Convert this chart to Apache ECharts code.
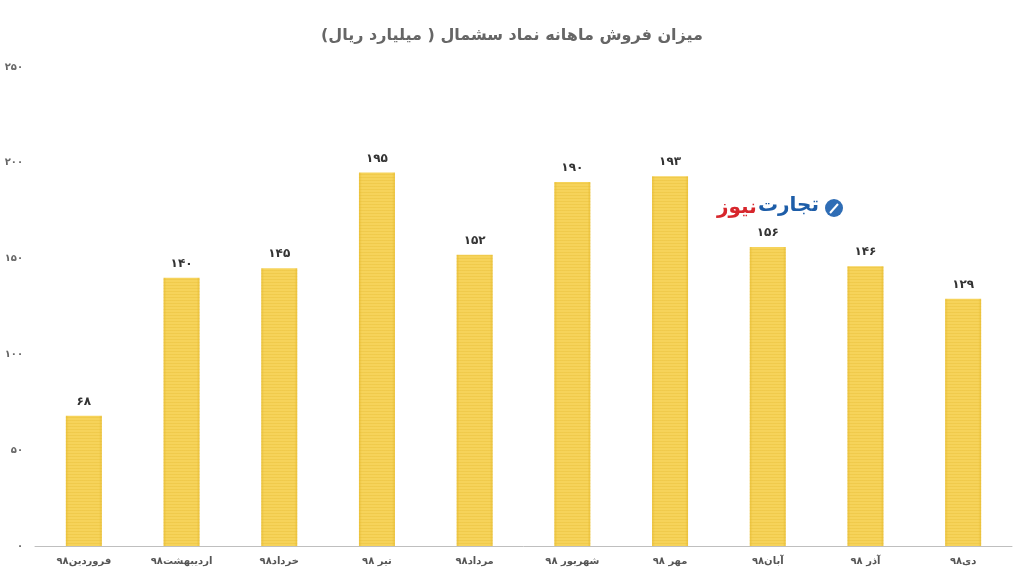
<!DOCTYPE html>
<html><head><meta charset="utf-8">
<script src="https://cdn.jsdelivr.net/npm/echarts@6/dist/echarts.min.js"></script>
<style>html,body{margin:0;padding:0;background:#fff}#c{width:1024px;height:576px}</style>
</head><body><div id="c"></div>
<script>
const titleText = 'میزان فروش ماهانه نماد سشمال ( میلیارد ریال)';
const categories = ['فروردین۹۸','اردیبهشت۹۸','خرداد۹۸','تیر ۹۸','مرداد۹۸','شهریور ۹۸','مهر ۹۸','آبان۹۸','آذر ۹۸','دی۹۸'];
const salesValues = [68, 140, 145, 195, 152, 190, 193, 156, 146, 129];
const yTicks = [0, 50, 100, 150, 200, 250];

const fa = n => String(n).replace(/[0-9]/g, d => '۰۱۲۳۴۵۶۷۸۹'[d]);
const FONT = '"DejaVu Sans", sans-serif';

const chart = echarts.init(document.getElementById('c'));
chart.setOption({
  animation: false,
  title: {
    text: titleText, left: 'center', top: 23,
    textStyle: { fontFamily: FONT, fontSize: 16, fontWeight: 'bold', color: '#666' }
  },
  grid: { left: 35, right: 12, top: 67, bottom: 30 },
  xAxis: {
    type: 'category', data: categories,
    axisLine: { lineStyle: { color: '#bfbfbf', width: 1 } },
    axisTick: { show: false },
    axisLabel: { fontFamily: FONT, fontSize: 10, fontWeight: 'bold', color: '#555', margin: 10 }
  },
  yAxis: {
    type: 'value', min: yTicks[0], max: yTicks[yTicks.length - 1], interval: 50,
    axisLine: { show: false }, axisTick: { show: false }, splitLine: { show: false },
    axisLabel: { fontFamily: FONT, fontSize: 10, fontWeight: 'bold', color: '#666', margin: 12,
      formatter: v => fa(v) }
  },
  series: [{
    type: 'bar', data: salesValues, barWidth: 36,
    itemStyle: {
      color: new echarts.graphic.LinearGradient(0, 0, 1, 0, [
        { offset: 0, color: '#EBC23C' }, { offset: 0.08, color: '#F6D35A' },
        { offset: 0.92, color: '#F6D35A' }, { offset: 1, color: '#EBC23C' }
      ]),
      decal: { symbol: 'rect', dashArrayX: [1, 0], dashArrayY: [1, 2], rotation: 0, color: 'rgba(230,185,50,0.35)' }
    },
    label: { show: true, position: 'top', distance: 8, fontFamily: FONT, fontSize: 12,
      fontWeight: 'bold', color: '#333', formatter: p => fa(p.value) }
  }],
  aria: { enabled: false },
  graphic: [
    { type: 'text', left: 717, top: 198, style: { text: 'نیوز', fontFamily: FONT, fontSize: 20, fontWeight: 'bold', fill: '#d7262c' } },
    { type: 'text', left: 758, top: 196, style: { text: 'تجارت', fontFamily: FONT, fontSize: 20, fontWeight: 'bold', fill: '#1d5da8' } },
    { type: 'circle', shape: { cx: 834, cy: 208, r: 9 }, style: { fill: '#2f6db5' } },
    { type: 'polyline', shape: { points: [[830, 213], [838, 204]] }, style: { stroke: '#fff', lineWidth: 2 } }
  ]
});
</script></body></html>
